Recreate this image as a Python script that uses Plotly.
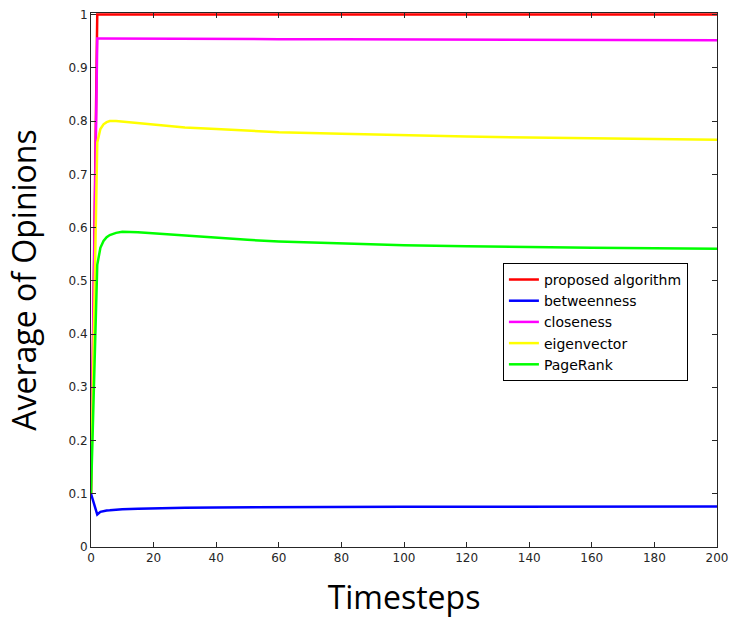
import plotly.graph_objects as go

timesteps = [0, 1, 2, 3, 4, 5, 6, 8, 10, 15, 20, 30, 40, 50, 60, 80, 100, 120, 140, 160, 180, 200]

proposed = [0.1, 0.55, 1.0, 1.0, 1.0, 1.0, 1.0, 1.0, 1.0, 1.0, 1.0, 1.0, 1.0, 1.0, 1.0, 1.0, 1.0, 1.0, 1.0, 1.0, 1.0, 1.0]
betweenness = [0.1, 0.08, 0.061, 0.066, 0.068, 0.0687, 0.069, 0.070, 0.071, 0.072, 0.073, 0.0738, 0.0744, 0.0748, 0.0751, 0.0754, 0.0756, 0.0757, 0.0758, 0.0759, 0.076, 0.076]
closeness = [0.1, 0.53, 0.955, 0.955, 0.955, 0.955, 0.955, 0.955, 0.955, 0.955, 0.9548, 0.9545, 0.9543, 0.954, 0.9538, 0.9535, 0.9532, 0.953, 0.9527, 0.9525, 0.9522, 0.952]
eigenvector = [0.1, 0.43, 0.76, 0.785, 0.794, 0.798, 0.8, 0.8, 0.799, 0.796, 0.793, 0.788, 0.785, 0.782, 0.779, 0.776, 0.773, 0.771, 0.769, 0.768, 0.767, 0.765]
pagerank = [0.1, 0.315, 0.53, 0.562, 0.575, 0.582, 0.586, 0.59, 0.592, 0.591, 0.589, 0.584, 0.58, 0.577, 0.574, 0.57, 0.567, 0.565, 0.563, 0.562, 0.561, 0.56]

series = [
    ("proposed algorithm", proposed, "#ff0000"),
    ("betweenness", betweenness, "#0000ff"),
    ("closeness", closeness, "#ff00ff"),
    ("eigenvector", eigenvector, "#ffff00"),
    ("PageRank", pagerank, "#00ff00"),
]

fig = go.Figure()
for name, vals, col in series:
    fig.add_trace(go.Scatter(x=timesteps, y=vals, mode="lines", name=name,
                             line=dict(color=col, width=2.5)))

axis_common = dict(showline=True, linecolor="#262626", linewidth=1, mirror="ticks",
                   ticks="inside", ticklen=5, tickcolor="#262626", showgrid=False,
                   zeroline=False, automargin=False, ticklabeloverflow="allow",
                   tickfont=dict(family="DejaVu Sans", size=12, color="#262626"))

fig.update_layout(
    width=732, height=618,
    margin=dict(l=91, r=15, t=13, b=71),
    paper_bgcolor="white", plot_bgcolor="white",
    xaxis=dict(range=[0, 200], dtick=20, tick0=0,
               title=dict(text="Timesteps", font=dict(family="Open Sans", size=32, color="black"), standoff=22),
               **axis_common),
    yaxis=dict(range=[0, 1.003], tickvals=[0, 0.1, 0.2, 0.3, 0.4, 0.5, 0.6, 0.7, 0.8, 0.9, 1],
               ticktext=["0", "0.1", "0.2", "0.3", "0.4", "0.5", "0.6", "0.7", "0.8", "0.9", "1"],
               title=dict(text="Average of Opinions", font=dict(family="Open Sans", size=32, color="black"), standoff=22),
               **axis_common),
    legend=dict(x=0.658, y=0.532, xanchor="left", yanchor="top",
                bgcolor="white", bordercolor="black", borderwidth=1,
                font=dict(family="DejaVu Sans", size=14, color="black"),
                tracegroupgap=0, itemwidth=30),
    showlegend=True,
)

fig.write_html("out.html", config={"displayModeBar": False},
               post_script="document.body.style.margin='0';document.body.style.overflow='hidden';")
